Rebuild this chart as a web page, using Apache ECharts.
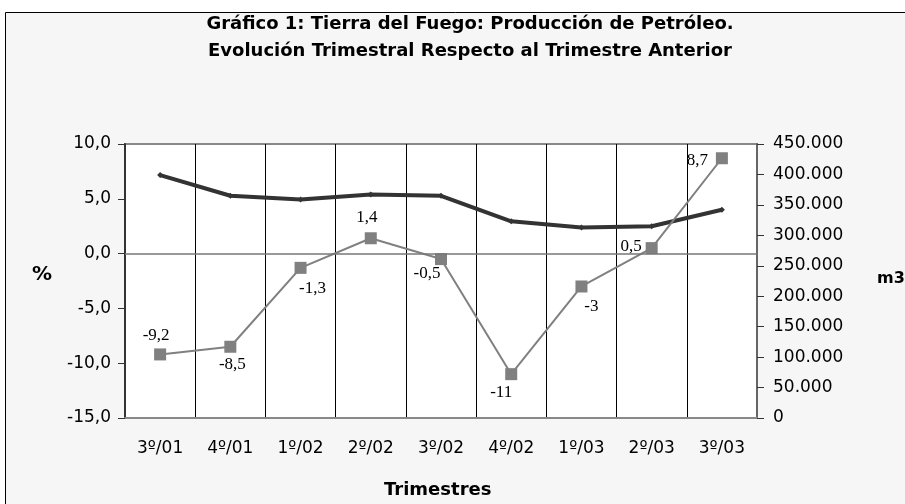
<!DOCTYPE html>
<html>
<head>
<meta charset="utf-8">
<script src="https://cdn.jsdelivr.net/npm/echarts@6/dist/echarts.min.js"></script>
<style>
  html, body { margin: 0; padding: 0; background: #fff; }
  #chart { width: 905px; height: 504px; }
</style>
</head>
<body>
<div id="chart"></div>
<script>
// Trimestres
const categories = ["3º/01", "4º/01", "1º/02", "2º/02", "3º/02", "4º/02", "1º/03", "2º/03", "3º/03"];
// variación trimestral (%)
const variacion = [-9.2, -8.5, -1.3, 1.4, -0.5, -11, -3, 0.5, 8.7];
// producción (m3)
const produccion = [399000, 365000, 359000, 367000, 365000, 323000, 313000, 315000, 342000];
// posición y desplazamiento de cada etiqueta
const labelPos = ["top", "bottom", "bottom", "top", "bottom", "bottom", "bottom", "left", "left"];
const labelOff = [[-4, 2], [2, -3], [12, 0], [-4, 0], [-14, -6], [-10, -2], [10, 0], [2, -2], [-2, 2]];

const chart = echarts.init(document.getElementById("chart"));

const sans = "DejaVu Sans, Verdana, sans-serif";
const fmtPct = v => v.toFixed(1).replace(".", ",");
const fmtM3 = v => String(v).replace(/\B(?=(\d{3})+(?!\d))/g, ".");

const option = {
  backgroundColor: "#fff",
  animation: false,
  textStyle: { fontFamily: sans },
  graphic: [
    {
      type: "rect",
      z: -10,
      shape: { x: 5.5, y: 12.5, width: 920, height: 520 },
      style: { fill: "#f6f6f6", stroke: "#000", lineWidth: 1 }
    },
    {
      type: "text", left: 32, top: 265,
      style: { text: "%", font: "bold 20px " + sans, fill: "#000" }
    },
    {
      type: "text", left: 877, top: 271,
      style: { text: "m3", font: "bold 16px " + sans, fill: "#000" }
    },
    {
      type: "text", left: 384, top: 481,
      style: { text: "Trimestres", font: "bold 18px " + sans, fill: "#000" }
    }
  ],
  title: {
    text: "Gráfico 1: Tierra del Fuego: Producción de Petróleo.\nEvolución Trimestral Respecto al Trimestre Anterior",
    left: 465,
    top: 6,
    textAlign: "center",
    textStyle: {
      fontSize: 18, fontWeight: "bold", color: "#000", lineHeight: 27,
      fontFamily: sans
    }
  },
  grid: {
    left: 125, right: 148, top: 144, bottom: 86,
    show: true, backgroundColor: "#fff", borderColor: "#888", borderWidth: 2
  },
  xAxis: {
    type: "category",
    data: categories,
    boundaryGap: true,
    axisLine: { onZero: false, lineStyle: { color: "#888", width: 2 } },
    axisTick: { show: false },
    axisLabel: { color: "#000", fontSize: 17, margin: 22, fontFamily: sans },
    splitLine: { show: true, lineStyle: { color: "#000", width: 1 } }
  },
  yAxis: [
    {
      type: "value",
      min: -15, max: 10, interval: 5,
      axisLine: { show: true, lineStyle: { color: "#333", width: 2 } },
      axisTick: { show: true, length: 7, lineStyle: { color: "#333" } },
      axisLabel: { color: "#000", fontSize: 17, margin: 14, formatter: fmtPct, fontFamily: sans },
      splitLine: { show: false }
    },
    {
      type: "value",
      min: 0, max: 450000, interval: 50000,
      position: "right",
      axisLine: { show: true, lineStyle: { color: "#666", width: 2 } },
      axisTick: { show: true, length: 7, lineStyle: { color: "#333" } },
      axisLabel: { color: "#000", fontSize: 17, margin: 16, formatter: fmtM3, fontFamily: sans },
      splitLine: { show: false }
    }
  ],
  series: [
    {
      name: "Producción",
      type: "line",
      yAxisIndex: 1,
      data: produccion,
      symbol: "diamond",
      symbolSize: 6,
      lineStyle: { color: "#333", width: 4 },
      itemStyle: { color: "#333" },
      z: 3
    },
    {
      name: "Variación",
      type: "line",
      yAxisIndex: 0,
      data: variacion.map((v, i) => ({
        value: v,
        label: { position: labelPos[i], offset: labelOff[i] }
      })),
      symbol: "rect",
      symbolSize: 12,
      lineStyle: { color: "#808080", width: 2 },
      itemStyle: { color: "#808080" },
      label: {
        show: true,
        distance: 6,
        color: "#000",
        fontSize: 17,
        fontFamily: "Liberation Serif, Times New Roman, serif",
        formatter: p => String(p.value).replace(".", ",")
      },
      markLine: {
        silent: true,
        symbol: "none",
        label: { show: false },
        lineStyle: { color: "#777", width: 1.5, type: "solid" },
        data: [{ yAxis: 0 }]
      },
      z: 4
    }
  ]
};

chart.setOption(option);
</script>
</body>
</html>
